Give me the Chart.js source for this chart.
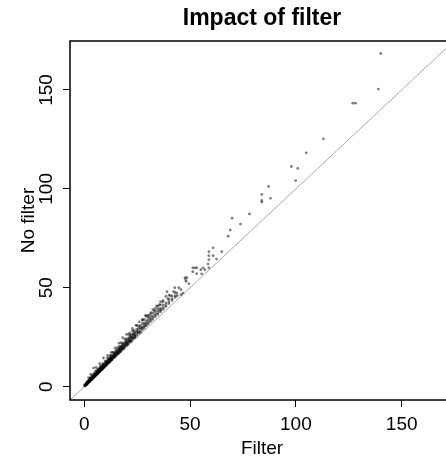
<!DOCTYPE html>
<html>
<head>
<meta charset="utf-8">
<script src="https://cdn.jsdelivr.net/npm/chart.js"></script>
<style>
  html, body { margin: 0; padding: 0; background: #fff; overflow: hidden; }
  #wrap { width: 460px; height: 460px; }
</style>
</head>
<body>
<div id="wrap"><canvas id="impact" width="460" height="460"></canvas></div>
<script>
// tick labels on both axes
const tickVals = [0, 50, 100, 150];

// dense part: one Filter value, several No filter values for it
const clusterFilter = [
  0.3, 0.6, 0.9, 1.2, 1.5, 1.8, 2.1, 2.4, 2.7, 3.0,
  3.3, 3.6, 3.9, 4.2, 4.5, 4.8, 5.1, 5.4, 5.7, 6.0,
  6.3, 6.6, 6.9, 7.2, 7.5, 7.8, 8.1, 8.4, 8.7, 9.0,
  9.4, 9.8, 10.2, 10.6, 11.0, 11.4, 11.8, 12.2, 12.6, 13.0,
  13.5, 14.0, 14.5, 15.0, 15.5, 16.0, 16.5, 17.0, 17.5, 18.0,
  18.6, 19.2, 19.8, 20.4, 21.0, 21.6, 22.2, 22.8, 23.4, 24.0,
  24.8, 25.6, 26.5, 27.4, 28.3, 29.2, 30.2, 31.3, 32.4, 33.6,
  34.8, 36.0, 37.3, 38.6, 40.0, 41.5, 43.0
];
const clusterNoFilter = [
  [0.3, 0.5, 0.7, 1.0], [0.6, 0.8, 1.0, 0.7], [1.0, 1.2, 0.9, 1.5], [1.3, 1.5, 1.2, 1.8, 2.3], [1.6, 1.9, 1.7, 2.2],
  [1.9, 2.1, 2.6, 2.4, 3.1], [2.2, 2.5, 2.3, 2.8], [2.5, 2.8, 3.4, 3.0, 2.6], [2.9, 3.1, 2.8, 3.5, 4.3], [3.2, 3.5, 3.3, 4.4, 3.8],
  [3.5, 3.7, 3.9, 4.2, 3.4], [3.8, 4.1, 3.9, 4.5, 5.4], [4.1, 4.4, 4.6, 5.6, 4.9], [4.4, 4.7, 4.5, 5.1, 4.3], [4.8, 5.1, 5.3, 5.6, 6.6],
  [5.1, 5.4, 5.0, 6.5, 5.8], [5.4, 5.7, 5.9, 6.2, 5.3], [5.7, 6.0, 6.3, 6.7, 7.8], [6.0, 6.4, 6.1, 7.8, 6.8], [6.3, 6.7, 6.9, 7.3, 6.2],
  [6.6, 7.0, 7.3, 7.7, 8.9], [6.9, 7.3, 7.0, 7.8, 8.4], [7.3, 7.6, 7.9, 9.1, 8.3], [7.6, 8.0, 7.7, 8.6, 7.5], [7.9, 8.3, 8.6, 9.0, 10.2],
  [8.2, 8.6, 8.3, 9.2, 9.8], [8.5, 8.9, 9.3, 10.6, 9.7], [8.8, 9.3, 9.0, 9.9, 8.7], [9.1, 9.6, 9.9, 10.4, 11.6], [9.5, 9.9, 9.6, 11.4, 10.5],
  [9.9, 10.4, 10.7, 11.2, 9.8], [10.3, 10.8, 10.5, 11.5, 12.7], [10.7, 11.3, 11.7, 13.0, 12.1], [11.1, 11.7, 11.4, 12.4, 11.0], [11.6, 12.2, 12.6, 13.1, 14.5],
  [12.0, 12.6, 12.3, 14.2, 13.4], [12.4, 13.0, 13.5, 14.0, 12.2], [12.8, 13.5, 13.1, 14.4, 15.6], [13.3, 13.9, 14.4, 15.9, 14.9], [13.7, 14.3, 14.0, 15.3, 13.5],
  [14.2, 14.9, 15.4, 16.0, 17.4], [14.7, 15.5, 15.1, 17.3, 16.4], [15.2, 16.0, 16.5, 17.1, 15.0], [15.8, 16.6, 16.2, 18.4, 17.5], [16.3, 17.1, 17.6, 18.2, 19.8],
  [16.8, 17.7, 17.2, 18.9, 16.6], [17.3, 18.2, 18.8, 20.4, 19.5], [17.9, 18.8, 18.3, 19.9, 17.6], [18.4, 19.3, 19.9, 20.6, 22.3], [18.9, 19.9, 19.4, 21.8, 20.8],
  [19.5, 20.5, 21.1, 21.9, 19.2], [20.2, 21.2, 20.7, 22.4, 23.9], [20.8, 21.8, 22.5, 24.3, 23.2], [21.4, 22.5, 21.9, 23.6, 21.1], [22.1, 23.2, 23.9, 24.7, 26.4],
  [22.7, 23.8, 23.2, 26.1, 25.0], [23.3, 24.5, 25.2, 26.0, 22.9], [24.0, 25.1, 24.6, 26.5, 28.3], [24.6, 25.8, 26.6, 28.4, 27.3], [25.2, 26.4, 25.8, 27.6, 24.8],
  [26.0, 27.3, 28.1, 29.0, 31.0], [26.9, 28.2, 27.5, 30.6, 29.4], [27.8, 29.2, 30.1, 31.0, 27.4], [28.8, 30.2, 29.5, 32.0, 33.8], [29.7, 31.2, 32.3, 34.0, 30.4],
  [30.7, 32.1, 31.3, 33.4, 35.6], [31.7, 33.4, 34.6, 32.5, 36.2], [32.9, 34.5, 36.8, 33.7, 35.6], [34.0, 35.8, 37.2, 34.9, 39.0], [35.3, 37.0, 39.6, 36.2, 38.3],
  [36.5, 38.4, 40.7, 37.4, 39.5], [37.8, 39.7, 41.4, 38.6, 43.0], [39.2, 41.2, 43.5, 40.0], [40.5, 42.4, 45.7, 41.3], [42.0, 44.1, 46.3, 42.9],
  [43.6, 45.9, 44.5], [45.2, 47.6, 46.0]
];

// sparse points, paired by index
const tailFilter = [
  140.1, 139.0, 126.9, 128.2, 113.0, 104.9, 97.9, 100.9, 99.9, 87.1,
  83.9, 83.9, 83.9, 88.0, 78.1, 69.9, 73.8, 69.0, 68.0, 60.9,
  65.0, 58.9, 60.9, 58.9, 58.9, 51.3, 52.3, 53.2, 55.1, 56.1,
  57.0, 51.3, 53.1, 58.9, 47.6, 48.5, 47.9, 42.8, 44.7, 45.7,
  43.8, 46.6, 39.1, 42.2, 45.7, 48.2, 40.6, 39.5, 37.0, 35.5,
  34.2, 33.0, 36.0, 31.5, 30.2, 29.0, 27.5, 26.0, 24.5, 22.8,
  21.5, 20.0, 18.2, 16.5, 14.6, 12.8, 11.0, 9.1, 7.3, 5.6,
  4.4, 3.1, 2.0, 58.5, 62.5, 49.5, 55.5, 44.0
];
const tailNoFilter = [
  168.4, 150.4, 143.3, 143.3, 125.3, 118.2, 111.3, 110.3, 104.2, 101.2,
  97.2, 94.1, 93.3, 95.2, 87.3, 85.2, 82.2, 79.2, 76.1, 70.2,
  68.2, 68.2, 66.2, 66.2, 64.2, 60.1, 60.1, 60.1, 59.1, 60.1,
  59.1, 58.1, 57.1, 60.1, 55.1, 55.1, 54.1, 50.0, 50.0, 49.0,
  47.3, 47.3, 48.0, 48.0, 46.5, 53.2, 46.0, 44.5, 42.8, 41.5,
  40.9, 38.4, 38.8, 37.4, 35.6, 36.1, 33.7, 32.8, 31.0, 29.5,
  27.2, 26.4, 24.8, 22.0, 19.5, 17.4, 15.8, 14.5, 11.6, 9.8,
  9.4, 6.3, 4.6, 62.0, 64.5, 52.0, 57.0, 46.0
];

// y = x reference line ends
const diagonal = [-10, 200];

const points = [];
clusterFilter.forEach((x, i) => {
  clusterNoFilter[i].forEach(y => points.push({ x: x, y: y }));
});
tailFilter.forEach((x, i) => points.push({ x: x, y: tailNoFilter[i] }));

// R style box round the plot
const boxPlugin = {
  id: "box",
  afterDraw(chart) {
    const { ctx, chartArea: a } = chart;
    ctx.save();
    ctx.strokeStyle = "#000";
    ctx.lineWidth = 1.5;
    ctx.strokeRect(a.left, a.top, a.right - a.left, a.bottom - a.top);
    ctx.restore();
  }
};

Chart.defaults.font.family = '"Liberation Sans", Arial, Helvetica, sans-serif';
Chart.defaults.color = "#000";

const setTicks = scale => {
  scale.ticks = tickVals.map(v => ({ value: v }));
};

new Chart(document.getElementById("impact"), {
  type: "scatter",
  data: {
    datasets: [
      {
        data: points,
        pointRadius: 1.4,
        pointBorderWidth: 0,
        pointBackgroundColor: "rgba(0,0,0,0.5)",
        pointHoverRadius: 0
      },
      {
        type: "line",
        data: diagonal.map(v => ({ x: v, y: v })),
        borderColor: "#a8a8a8",
        borderWidth: 1,
        pointRadius: 0,
        fill: false
      }
    ]
  },
  options: {
    responsive: false,
    animation: false,
    events: [],
    layout: { padding: { left: 0, right: 6, top: 0, bottom: 0 } },
    plugins: {
      legend: { display: false },
      tooltip: { enabled: false },
      title: {
        display: true,
        text: "Impact of filter",
        fullSize: false,
        color: "#000",
        font: { size: 23, weight: "bold" },
        padding: { top: 4.5, bottom: 8.9 }
      }
    },
    scales: {
      x: {
        type: "linear",
        min: -6.72,
        max: 174.72,
        afterBuildTicks: setTicks,
        afterFit: s => { s.height = 60; },
        border: { display: false },
        grid: { drawOnChartArea: false, color: "#000", tickLength: 7, lineWidth: 1 },
        ticks: { font: { size: 19 }, color: "#000", padding: 6, maxRotation: 0 },
        title: { display: true, text: "Filter", font: { size: 19 }, color: "#000", padding: { top: 0, bottom: 0 } }
      },
      y: {
        type: "linear",
        min: -6.72,
        max: 174.72,
        afterBuildTicks: setTicks,
        afterFit: s => { s.width = 70; },
        border: { display: false },
        grid: { drawOnChartArea: false, color: "#000", tickLength: 7, lineWidth: 1 },
        ticks: { font: { size: 19 }, color: "#000", padding: 0, minRotation: 90, maxRotation: 90, crossAlign: "center" },
        title: { display: true, text: "No filter", font: { size: 19 }, color: "#000", padding: { top: 17, bottom: 0 } }
      }
    }
  },
  plugins: [boxPlugin]
});
</script>
</body>
</html>
